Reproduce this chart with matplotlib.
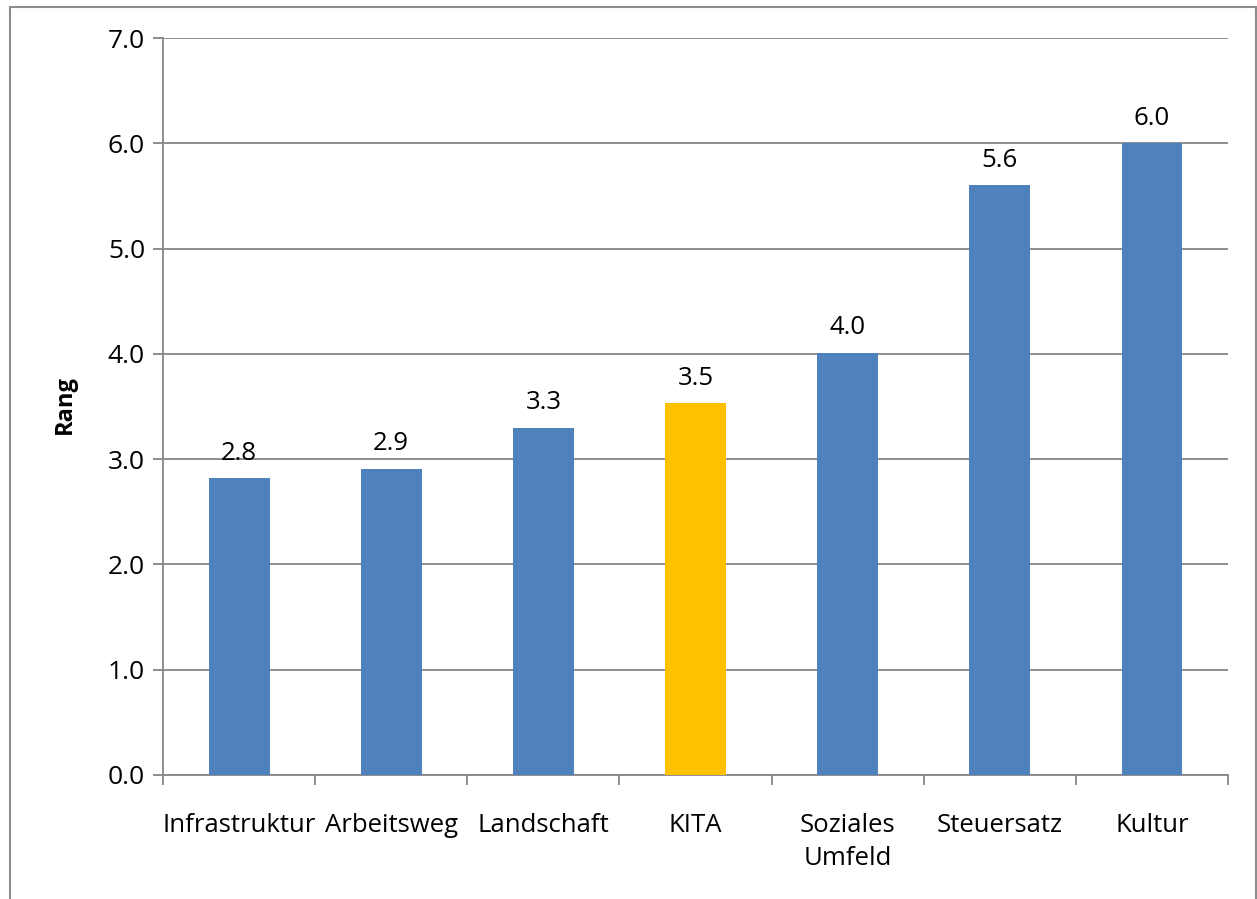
import numpy as np
import matplotlib
matplotlib.use("Agg")
import matplotlib.pyplot as plt
from matplotlib.patches import Rectangle

categories = ["Infrastruktur", "Arbeitsweg", "Landschaft", "KITA",
              "Soziales\nUmfeld", "Steuersatz", "Kultur"]
values = [2.82, 2.91, 3.30, 3.53, 4.01, 5.60, 6.00]
labels = ["2.8", "2.9", "3.3", "3.5", "4.0", "5.6", "6.0"]
colors = ["#4F81BD", "#4F81BD", "#4F81BD", "#FFC000",
          "#4F81BD", "#4F81BD", "#4F81BD"]

plt.rcParams["font.family"] = ["Open Sans", "DejaVu Sans"]

W, H = 1257, 899
fig = plt.figure(figsize=(W / 100, H / 100), dpi=100)
ax = fig.add_axes([163 / W, 1 - 775 / H, (1228 - 163) / W, (775 - 38) / H])

x = np.arange(len(categories))
ax.bar(x, values, width=0.4, color=colors, zorder=3)

for xi, v, lab in zip(x, values, labels):
    ax.annotate(lab, (xi, v), xytext=(0, 9), textcoords="offset points",
                ha="center", va="bottom", fontsize=18.5)

ax.set_xlim(-0.5, len(categories) - 0.5)
ax.set_ylim(0, 7)
ax.set_yticks(np.arange(0, 7.1, 1))
ax.set_yticklabels([f"{t:.1f}" for t in np.arange(0, 7.1, 1)])
ax.yaxis.grid(True, color="#868686", linewidth=1.3, zorder=0)
ax.set_axisbelow(True)

# category ticks at boundaries, labels in the middle
ax.set_xticks(np.arange(-0.5, len(categories), 1))
ax.set_xticklabels([])
ax.set_xticks(x, minor=True)
ax.set_xticklabels(categories, minor=True, fontsize=18.5, va="top",
                   linespacing=1.45)
ax.tick_params(axis="x", which="major", length=7, color="#868686", width=1.3)
ax.tick_params(axis="x", which="minor", length=0, pad=27)
ax.tick_params(axis="y", length=7, color="#868686", width=1.3, labelsize=19, pad=6)

for side in ["top", "right"]:
    ax.spines[side].set_visible(False)
for side in ["left", "bottom"]:
    ax.spines[side].set_color("#868686")
    ax.spines[side].set_linewidth(1.3)

ax.set_ylabel("Rang", fontsize=17, fontweight="bold")
ax.yaxis.set_label_coords((77 - 163) / (1228 - 163), (775 - 405) / (775 - 38))

# outer chart frame
fig.patches.append(Rectangle((10 / W, -0.05), (W - 11) / W, 1.05 - 7 / H,
                             transform=fig.transFigure, fill=False,
                             edgecolor="#8C8C8C", linewidth=1.5))

fig.savefig("out.png", dpi=100)
